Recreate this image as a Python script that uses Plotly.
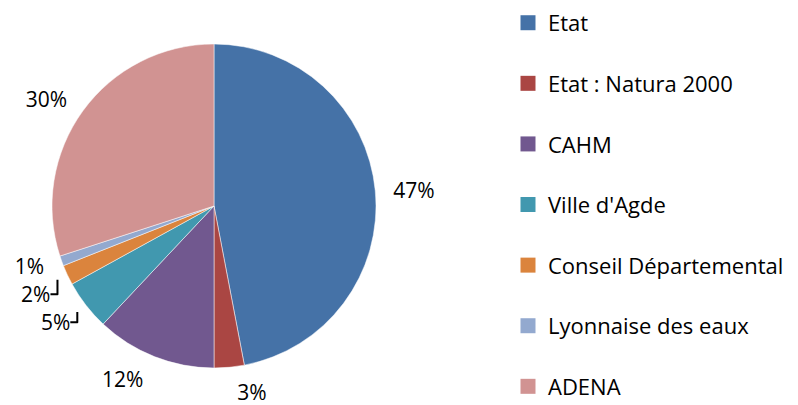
import plotly.graph_objects as go

labels = ["Etat", "Etat : Natura 2000", "CAHM", "Ville d'Agde",
          "Conseil Départemental", "Lyonnaise des eaux", "ADENA"]
values = [47, 3, 12, 5, 2, 1, 30]
colors = ["#4572A7", "#AA4643", "#71588F", "#4198AF", "#DB843D", "#93A9CF", "#D19392"]

FONT = "Open Sans"
W, H = 798, 405

fig = go.Figure()
# invisible, slightly larger pie that carries the outside percentage labels
fig.add_trace(go.Pie(
    labels=labels, values=values, sort=False, direction="clockwise", rotation=0,
    marker=dict(colors=["rgba(0,0,0,0)"] * len(values)),
    textinfo="percent", texttemplate="%{percent:.0%}", textposition="outside",
    textfont=dict(family=FONT, size=21, color="#000000"),
    showlegend=False, hoverinfo="skip",
    domain=dict(x=[33 / W, 379 / W], y=[34 / H, 380 / H]),
))
# visible pie
fig.add_trace(go.Pie(
    labels=labels, values=values, sort=False, direction="clockwise", rotation=0,
    marker=dict(colors=colors, line=dict(color="white", width=0.5)),
    textinfo="none", showlegend=False, hoverinfo="label+percent",
    domain=dict(x=[44 / W, 368 / W], y=[45 / H, 369 / H]),
))
for lab, col in zip(labels, colors):
    fig.add_trace(go.Scatter(
        x=[None], y=[None], mode="markers", name=lab, legendgroup=lab,
        marker=dict(symbol="square", size=15, color=col),
    ))

fig.update_layout(
    width=W, height=H, margin=dict(l=0, r=0, t=0, b=0, autoexpand=False),
    paper_bgcolor="white", plot_bgcolor="white",
    xaxis=dict(visible=False), yaxis=dict(visible=False),
    font=dict(family=FONT, size=20, color="#000000"),
    legend=dict(x=500 / W, y=1.015, xanchor="left", yanchor="top",
                maxheight=450, tracegroupgap=29, font=dict(family=FONT, size=22),
                bgcolor="rgba(0,0,0,0)"),
)
fig.write_html("out.html")
